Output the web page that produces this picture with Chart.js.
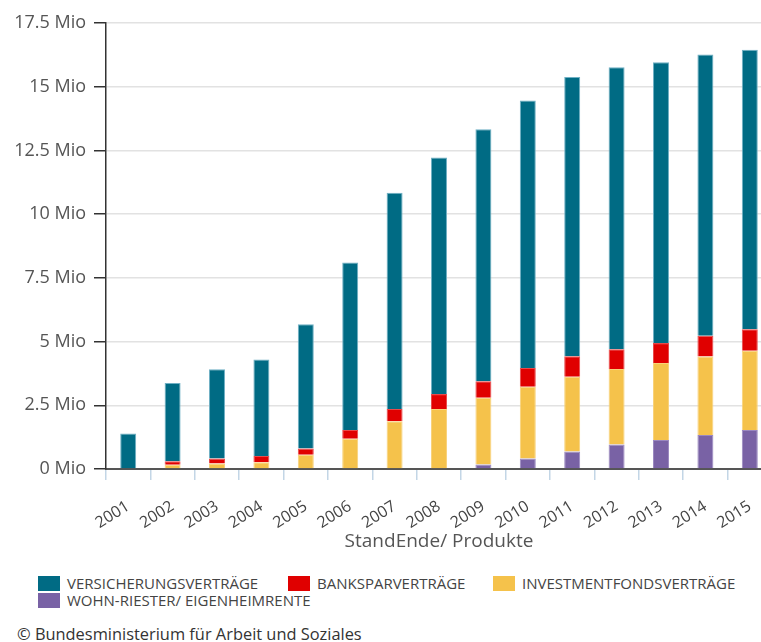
<!DOCTYPE html>
<html>
<head>
<meta charset="utf-8">
<script src="https://cdn.jsdelivr.net/npm/chart.js@4.4.1/dist/chart.umd.min.js"></script>
<style>
  html, body { margin: 0; padding: 0; background: #fff; overflow: hidden; }
  body { width: 761px; height: 642px; position: relative; font-family: 'Open Sans', sans-serif; }
  #wrap { position: absolute; left: 0; top: 0; width: 772px; height: 553px; }
  .legend { position: absolute; font-size: 15px; line-height: 17px; color: #444; white-space: nowrap; }
  .legend span.sw { display: inline-block; width: 22px; height: 15px; vertical-align: -2px; margin-right: 7px; }
  .copy { position: absolute; left: 17px; top: 622px; font-size: 16.4px; color: #333; white-space: nowrap; }
</style>
</head>
<body>
<div id="wrap"><canvas id="chart"></canvas></div>

<div class="legend" style="left:38px; top:575px;"><span class="sw" style="background:#006b84"></span>VERSICHERUNGSVERTRÄGE</div>
<div class="legend" style="left:288px; top:575px;"><span class="sw" style="background:#e00000"></span>BANKSPARVERTRÄGE</div>
<div class="legend" style="left:493px; top:575px;"><span class="sw" style="background:#f5c24b"></span>INVESTMENTFONDSVERTRÄGE</div>
<div class="legend" style="left:38px; top:592px;"><span class="sw" style="background:#7962a5"></span>WOHN-RIESTER/ EIGENHEIMRENTE</div>
<div class="copy">© Bundesministerium für Arbeit und Soziales</div>

<script>
// Jahre (Stand Ende)
const years = ['2001', '2002', '2003', '2004', '2005', '2006', '2007', '2008',
               '2009', '2010', '2011', '2012', '2013', '2014', '2015'];

// Verträge in Mio, von unten nach oben gestapelt
const wohnRiester = [0, 0, 0, 0, 0, 0, 0, 0, 0.18, 0.41, 0.69, 0.96, 1.14, 1.33, 1.53];
const investment  = [0, 0.17, 0.22, 0.26, 0.56, 1.19, 1.87, 2.35, 2.62, 2.82, 2.93, 2.96, 3.02, 3.08, 3.11];
const bankspar    = [0, 0.13, 0.19, 0.25, 0.24, 0.34, 0.48, 0.59, 0.64, 0.73, 0.80, 0.78, 0.78, 0.82, 0.84];
const versicherung = [1.39, 3.07, 3.50, 3.79, 4.88, 6.57, 8.49, 9.28, 9.89, 10.50, 10.96, 11.06, 11.02, 11.03, 10.97];

const yMax = 17.5;
const yStep = 2.5;

const FONT = "'Open Sans', sans-serif";

function ds(label, data, color, border) {
    return {
        label: label,
        data: data,
        backgroundColor: color,
        borderColor: border,
        borderWidth: 1,
        barPercentage: 0.36,
        categoryPercentage: 1
    };
}

new Chart(document.getElementById('chart'), {
    type: 'bar',
    data: {
        labels: years,
        datasets: [
            ds('Wohn-Riester/ Eigenheimrente', wohnRiester, '#7962a5', '#9a88c0'),
            ds('Investmentfondsverträge', investment, '#f5c24b', '#f8d27a'),
            ds('Banksparverträge', bankspar, '#e00000', '#e84a4a'),
            ds('Versicherungsverträge', versicherung, '#006b84', '#6fb0c4')
        ]
    },
    options: {
        responsive: true,
        maintainAspectRatio: false,
        animation: false,
        layout: { padding: { top: 23, right: 0, left: 0, bottom: 0 } },
        plugins: {
            legend: { display: false },
            tooltip: { enabled: false }
        },
        scales: {
            x: {
                stacked: true,
                grid: {
                    drawOnChartArea: false,
                    drawTicks: true,
                    tickLength: 11,
                    color: '#c3d6e6',
                    lineWidth: 1.5
                },
                border: { display: true, color: '#555', width: 2 },
                ticks: {
                    maxRotation: 32,
                    minRotation: 32,
                    color: '#444',
                    padding: 17,
                    font: { family: FONT, size: 16 }
                },
                title: {
                    display: true,
                    text: 'StandEnde/ Produkte',
                    color: '#555',
                    padding: { top: 10, bottom: 0 },
                    font: { family: FONT, size: 19 }
                },
                afterFit: s => {
                    s.height = 84;
                    s.paddingLeft = 0;
                    s.paddingRight = 0;
                }
            },
            y: {
                stacked: true,
                min: 0,
                max: yMax,
                ticks: {
                    stepSize: yStep,
                    color: '#555',
                    padding: 8,
                    font: { family: FONT, size: 18 },
                    callback: v => v + ' Mio'
                },
                grid: {
                    color: '#e2e2e2',
                    lineWidth: 1.5,
                    drawTicks: true,
                    tickLength: 12,
                    tickColor: '#333',
                    tickWidth: 1.5
                },
                border: { display: true, color: '#333', width: 1.5 },
                afterFit: s => { s.width = 106; }
            }
        }
    }
});
</script>
</body>
</html>
